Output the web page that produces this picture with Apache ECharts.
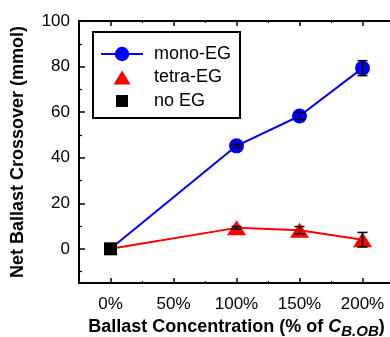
<!DOCTYPE html>
<html>
<head>
<meta charset="utf-8">
<script src="https://cdn.jsdelivr.net/npm/echarts@6/dist/echarts.min.js"></script>
<style>
html,body{margin:0;padding:0;background:#fff;}
#chart{width:390px;height:337px;}
</style>
</head>
<body>
<div id="chart"></div>
<script>
// ---- data ----
const xValues = [0, 100, 150, 200];           // Ballast concentration, % of C_B.OB
const monoEG = [0, 45.2, 58.3, 79.3];
const monoErr = [0, 0.8, 1.6, 3.3];
const tetraEG = [0, 9.2, 8.2, 4.0];
const tetraErr = [0, 0.6, 1.6, 3.2];
const noEGx = [0];
const noEGy = [0];
const xTickValues = [0, 50, 100, 150, 200];
const xMinorValues = [-25, 25, 75, 125, 175, 225];
const yTickValues = [0, 20, 40, 60, 80, 100];
const yMinorValues = [-10, 10, 30, 50, 70, 90];
const seriesNames = ['mono-EG', 'tetra-EG', 'no EG'];

const FONT = 'Liberation Sans, Arial, Helvetica, sans-serif';
const chart = echarts.init(document.getElementById('chart'), null, {renderer: 'canvas'});

function pairs(xs, ys) { return xs.map((x, i) => [x, ys[i]]); }
function errData(xs, ys, es) {
  return xs.map((x, i) => [x, ys[i], es[i]]).filter(d => d[2] > 0);
}
function errorSeries(data) {
  return {
    type: 'custom',
    xAxisIndex: 0, yAxisIndex: 0,
    z: 5,
    silent: true,
    data: data,
    renderItem: function (params, api) {
      const x = api.value(0), y = api.value(1), e = api.value(2);
      const t = api.coord([x, y + e]);
      const b = api.coord([x, y - e]);
      const hw = 5;
      const st = {stroke: '#000', lineWidth: 1.5};
      return {type: 'group', children: [
        {type: 'line', shape: {x1: t[0], y1: t[1], x2: b[0], y2: b[1]}, style: st},
        {type: 'line', shape: {x1: t[0] - hw, y1: t[1], x2: t[0] + hw, y2: t[1]}, style: st},
        {type: 'line', shape: {x1: b[0] - hw, y1: b[1], x2: b[0] + hw, y2: b[1]}, style: st}
      ]};
    }
  };
}

const axLine = {show: true, onZero: false, lineStyle: {color: '#000', width: 2}};
const noLine = {show: false, onZero: false};
function tickAxis(extra) {
  return Object.assign({
    type: 'value',
    splitLine: {show: false},
    axisLine: noLine,
    axisLabel: {show: false},
    axisTick: {show: true, inside: true, length: 3, lineStyle: {color: '#000', width: 1.2}}
  }, extra);
}

const monoData = pairs(xValues, monoEG).map((d, i) => i === 0 ? {value: d, symbol: 'none'} : d);
const tetraData = pairs(xValues, tetraEG).map((d, i) => i === 0 ? {value: d, symbol: 'none'} : d);

const option = {
  backgroundColor: '#fff',
  animation: false,
  textStyle: {fontFamily: FONT},
  grid: {left: 79, right: -4, top: 21, bottom: 54, containLabel: false, outerBoundsMode: 'none'},
  legend: {
    orient: 'vertical',
    left: 93, top: 32,
    borderColor: '#000', borderWidth: 2,
    padding: [13, 9, 8, 7],
    itemWidth: 42, itemHeight: 18, itemGap: 5.5,
    textStyle: {fontSize: 18, color: '#000', fontFamily: FONT, padding: [0, 0, 0, 6]},
    data: [
      {name: seriesNames[0]},
      {name: seriesNames[1], icon: 'path://M-9,-9M9,9M0,-7L8.5,7L-8.5,7Z'},
      {name: seriesNames[2], icon: 'path://M-9,-9M9,9M-6,-6L6,-6L6,6L-6,6Z'}
    ]
  },
  xAxis: [
    {
      type: 'value', position: 'bottom', min: -25, max: 225,
      splitLine: {show: false},
      axisLine: axLine,
      axisTick: {show: true, inside: true, length: 5, customValues: xTickValues, lineStyle: {color: '#000', width: 1.5}},
      axisLabel: {customValues: xTickValues, formatter: v => v + '%', fontSize: 17, color: '#000', margin: 13, fontFamily: FONT},
      name: '{a|Ballast Concentration (% of }{i|C}{s|B.OB}{a|)}',
      nameLocation: 'middle', nameGap: 30,
      nameTextStyle: {
        rich: {
          a: {fontSize: 18, fontWeight: 'bold', color: '#000', fontFamily: FONT},
          i: {fontSize: 18, fontWeight: 'bold', fontStyle: 'italic', color: '#000', fontFamily: FONT},
          s: {fontSize: 15, fontWeight: 'bold', fontStyle: 'italic', color: '#000', fontFamily: FONT, padding: [9, 0, 0, 0]}
        }
      }
    },
    tickAxis({position: 'bottom', min: -25, max: 225, axisTick: {show: true, inside: true, length: 2, customValues: xMinorValues, lineStyle: {color: '#000', width: 1.2}}}),
    tickAxis({position: 'top', min: -25, max: 225, axisLine: axLine, axisTick: {show: true, inside: true, length: 5, customValues: xTickValues, lineStyle: {color: '#000', width: 1.5}}}),
    tickAxis({position: 'top', min: -25, max: 225, axisTick: {show: true, inside: true, length: 2, customValues: xMinorValues, lineStyle: {color: '#000', width: 1.2}}})
  ],
  yAxis: [
    {
      type: 'value', position: 'left', min: -15, max: 100,
      splitLine: {show: false},
      axisLine: axLine,
      axisTick: {show: true, inside: true, length: 6, customValues: yTickValues, lineStyle: {color: '#000', width: 1.5}},
      axisLabel: {customValues: yTickValues, fontSize: 17, color: '#000', margin: 9, fontFamily: FONT},
      name: 'Net Ballast Crossover (mmol)',
      nameLocation: 'middle', nameGap: 52,
      nameTextStyle: {fontSize: 18, fontWeight: 'bold', color: '#000', fontFamily: FONT}
    },
    tickAxis({position: 'left', min: -15, max: 100, axisTick: {show: true, inside: true, length: 3, customValues: yMinorValues, lineStyle: {color: '#000', width: 1.2}}}),
    tickAxis({position: 'right', min: -15, max: 100, axisLine: axLine, axisTick: {show: true, inside: true, length: 4, customValues: yMinorValues, lineStyle: {color: '#888', width: 1}}})
  ],
  series: [
    {
      name: seriesNames[0], type: 'line', xAxisIndex: 0, yAxisIndex: 0,
      data: monoData,
      symbol: 'circle', symbolSize: 15,
      itemStyle: {color: '#0000ff'},
      lineStyle: {color: '#0000ff', width: 2},
      z: 3
    },
    {
      name: seriesNames[1], type: 'line', xAxisIndex: 0, yAxisIndex: 0,
      data: tetraData,
      symbol: 'triangle', symbolSize: [19, 15],
      itemStyle: {color: '#ff0000'},
      lineStyle: {color: '#ff0000', width: 2},
      z: 3
    },
    {
      name: seriesNames[2], type: 'scatter', xAxisIndex: 0, yAxisIndex: 0,
      data: pairs(noEGx, noEGy),
      symbol: 'rect', symbolSize: 13,
      itemStyle: {color: '#000', opacity: 1},
      z: 4
    },
    errorSeries(errData(xValues, monoEG, monoErr)),
    errorSeries(errData(xValues, tetraEG, tetraErr))
  ]
};
chart.setOption(option);
</script>
</body>
</html>
